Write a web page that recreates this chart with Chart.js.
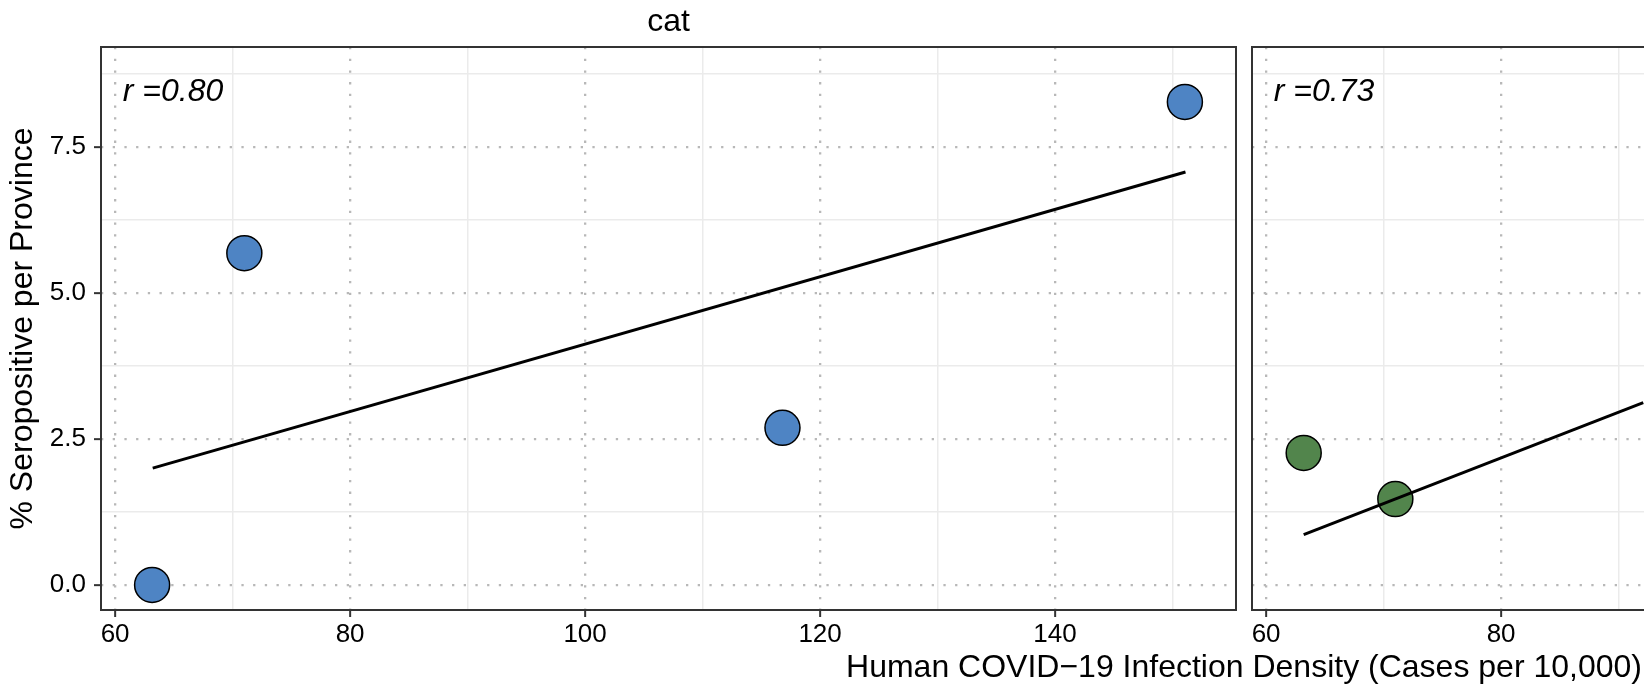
<!DOCTYPE html>
<html>
<head>
<meta charset="utf-8">
<title>Seropositivity vs human infection density</title>
<script src="https://cdn.jsdelivr.net/npm/chart.js@4.4.1/dist/chart.umd.min.js"></script>
<style>
  html, body { margin: 0; padding: 0; background: #fff; width: 1644px; height: 687px; overflow: hidden; }
  #wrap { position: relative; width: 1644px; height: 687px; overflow: hidden; }
  #wrap canvas { position: absolute; top: 0; }
  #cvCat { left: 0; }
  #cvNext { left: 1244px; }
  #xTitle {
    position: absolute; left: 444px; width: 1600px; top: 648px; height: 36px;
    line-height: 36px; text-align: center; white-space: nowrap; color: #000;
    font-family: "Liberation Sans", Arial, sans-serif; font-size: 32px;
  }
</style>
</head>
<body>
<div id="wrap">
  <canvas id="cvCat" width="1244" height="687"></canvas>
  <canvas id="cvNext" width="1160" height="687"></canvas>
  <div id="xTitle">Human COVID−19 Infection Density (Cases per 10,000)</div>
</div>
<script>
// ---- data ----
const xMajor = [60, 80, 100, 120, 140];
const xMinor = [70, 90, 110, 130, 150];
const yMajor = [0, 2.5, 5, 7.5];
const yMinor = [1.25, 3.75, 6.25, 8.75];
const xRange = [58.8, 155.4];
const yRange = [-0.43, 9.21];

const catX = [63.15, 71.0, 116.8, 151.05];
const catY = [0.0, 5.68, 2.69, 8.27];
const catFitX = [63.2, 151.1];
const catFitY = [2.0, 7.07];

const nextX = [63.2, 71.0];
const nextY = [2.26, 1.47];
const nextFitX = [63.2, 92.1];
const nextFitY = [0.86, 3.12];

const rLabelPos = [60.65, 8.29];   // where the r = ... text sits (data units)

const FONT = '"Liberation Sans", Arial, sans-serif';
const tickFont = { family: FONT, size: 26 };
const titleFont = { family: FONT, size: 32 };

const isIn = (list, v) => list.some(m => Math.abs(m - v) < 1e-6);
const pairs = (xs, ys) => xs.map((x, i) => ({ x, y: ys[i] }));

// border, facet label and r annotation
const panelDecor = {
  id: 'panelDecor',
  afterDatasetsDraw(chart, args, opts) {
    const { ctx, chartArea: a, scales: { x, y } } = chart;
    ctx.save();
    ctx.strokeStyle = '#333';
    ctx.lineWidth = 2;
    ctx.strokeRect(a.left, a.top, a.right - a.left, a.bottom - a.top);
    ctx.fillStyle = '#000';
    ctx.textBaseline = 'alphabetic';
    ctx.font = `italic ${titleFont.size}px ${FONT}`;
    ctx.textAlign = 'left';
    ctx.fillText(opts.rText, x.getPixelForValue(rLabelPos[0]), y.getPixelForValue(rLabelPos[1]));
    if (opts.facet) {
      ctx.font = `${titleFont.size}px ${FONT}`;
      ctx.textAlign = 'center';
      ctx.fillText(opts.facet, (a.left + a.right) / 2, a.top - 16);
    }
    ctx.restore();
  }
};

function gridOpts(major) {
  const isMajor = c => c.tick && isIn(major, c.tick.value);
  return {
    grid: {
      color: c => isMajor(c) ? '#b8b8b8' : '#ebebeb',
      lineWidth: c => isMajor(c) ? 2.3 : 1.5,
      tickColor: c => isMajor(c) ? '#333' : 'rgba(0,0,0,0)',
      tickLength: 7,
      tickWidth: 2
    },
    border: { display: false, dash: c => isMajor(c) ? [2.3, 9.4] : [] }
  };
}

function makePanel(canvasId, xs, ys, fitX, fitY, fill, facet, rText, withYAxis, padRight) {
  const xg = gridOpts(xMajor);
  const yg = gridOpts(yMajor);
  if (!withYAxis) yg.grid.tickColor = 'rgba(0,0,0,0)';

  return new Chart(document.getElementById(canvasId), {
    type: 'scatter',
    data: {
      datasets: [
        {
          type: 'line', data: pairs(fitX, fitY), order: 0,
          borderColor: '#000', borderWidth: 3, pointRadius: 0, fill: false
        },
        {
          data: pairs(xs, ys), order: 1,
          pointRadius: 17.5, pointBackgroundColor: fill,
          pointBorderColor: '#000', pointBorderWidth: 1.5
        }
      ]
    },
    options: {
      responsive: false, animation: false, events: [],
      layout: { autoPadding: false, padding: { top: 47, right: padRight, left: 0, bottom: 0 } },
      plugins: { legend: { display: false }, tooltip: { enabled: false }, panelDecor: { facet, rText } },
      scales: {
        x: {
          type: 'linear', min: xRange[0], max: xRange[1],
          afterBuildTicks: s => { s.ticks = [...xMajor, ...xMinor].sort((a, b) => a - b).map(v => ({ value: v })); },
          afterFit: s => { s.height = 77; s.paddingLeft = 0; s.paddingRight = 0; },
          ticks: {
            callback: v => isIn(xMajor, v) ? String(v) : '',
            font: tickFont, color: '#000', padding: 2, maxRotation: 0, autoSkip: false
          },
          ...xg
        },
        y: {
          type: 'linear', min: yRange[0], max: yRange[1],
          afterBuildTicks: s => { s.ticks = [...yMajor, ...yMinor].sort((a, b) => a - b).map(v => ({ value: v })); },
          afterFit: s => { s.width = withYAxis ? 101 : 8; s.paddingTop = 0; s.paddingBottom = 0; },
          title: {
            display: withYAxis, text: '% Seropositive per Province',
            font: titleFont, color: '#000', padding: { top: 4, bottom: 0 }
          },
          ticks: {
            display: withYAxis,
            callback: v => isIn(yMajor, v) ? v.toFixed(1) : '',
            font: tickFont, color: '#000', padding: 8, autoSkip: false
          },
          ...yg
        }
      }
    },
    plugins: [panelDecor]
  });
}

makePanel('cvCat', catX, catY, catFitX, catFitY, '#4E84C4', 'cat', 'r =0.80', true, 8);
makePanel('cvNext', nextX, nextY, nextFitX, nextFitY, '#52854C', null, 'r =0.73', false, 17);
</script>
</body>
</html>
